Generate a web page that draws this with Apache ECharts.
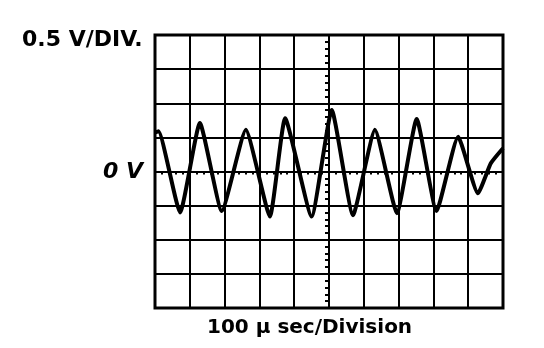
<!DOCTYPE html>
<html>
<head>
<meta charset="utf-8">
<style>html,body{margin:0;padding:0;background:#fff}#c{width:544px;height:348px}</style>
<script src="https://cdn.jsdelivr.net/npm/echarts@6/dist/echarts.min.js"></script>
</head>
<body>
<div id="c"></div>
<script>
// Time (µs, relative to screen centre) and voltage (V) of the trace
var timeUs = [-500, -490, -428, -371, -308, -239, -170, -126, -50, 8, 69, 132, 195, 252, 309, 371, 428, 465, 500];
var volts  = [0.57, 0.59, -0.60, 0.71, -0.58, 0.61, -0.66, 0.78, -0.66, 0.90, -0.64, 0.61, -0.61, 0.77, -0.58, 0.51, -0.32, 0.12, 0.34];
var yLabel = '0.5 V/DIV.';
var zeroLabel = '0 V';
var xLabel = '100 µ sec/Division';

var data = timeUs.map(function (t, i) { return [t, volts[i]]; });
var font = '"DejaVu Sans", Arial, sans-serif';
var black = '#000';

function xAx(inside, main) {
  return {
    type: 'value', min: -500, max: 500, interval: 100,
    axisLine: { show: main, onZero: true, onZeroAxisIndex: 0, lineStyle: { color: black, width: 2 } },
    axisTick: { show: true, inside: inside, length: 4, lineStyle: { color: black, width: 2 } },
    minorTick: { show: true, splitNumber: 5, length: 3, lineStyle: { color: black, width: 2 } },
    splitLine: { show: main, lineStyle: { color: black, width: 2 } },
    axisLabel: { show: false }
  };
}
function yAx(inside, main) {
  return {
    type: 'value', min: -2, max: 2, interval: 0.5,
    axisLine: { show: main, onZero: true, onZeroAxisIndex: 0, lineStyle: { color: black, width: 2 } },
    axisTick: { show: true, inside: inside, length: 4, lineStyle: { color: black, width: 2 } },
    minorTick: { show: true, splitNumber: 5, length: 4, lineStyle: { color: black, width: 2 } },
    splitLine: { show: main, lineStyle: { color: black, width: 2 } },
    axisLabel: { show: false }
  };
}

var chart = echarts.init(document.getElementById('c'), null, { renderer: 'canvas' });
chart.setOption({
  animation: false,
  backgroundColor: '#fff',
  grid: { left: 155, right: 41, top: 35, bottom: 40, show: true, borderColor: black, borderWidth: 3, backgroundColor: 'transparent' },
  xAxis: [xAx(false, true), xAx(true, false)],
  yAxis: [yAx(false, true), yAx(true, false)],
  series: [{
    type: 'line', xAxisIndex: 0, yAxisIndex: 0, data: data,
    smooth: 0.15, showSymbol: false, symbol: 'none',
    lineStyle: { color: black, width: 4 }, z: 5
  }],
  graphic: [
    { type: 'text', left: 22, top: 29, style: { text: yLabel, font: 'bold 22px ' + font, fill: black } },
    { type: 'text', right: 544 - 143, top: 161, style: { text: zeroLabel, font: 'italic bold 22px ' + font, fill: black } },
    { type: 'text', left: 207, top: 318, style: { text: xLabel, font: 'bold 20px ' + font, fill: black } }
  ]
});
</script>
</body>
</html>
